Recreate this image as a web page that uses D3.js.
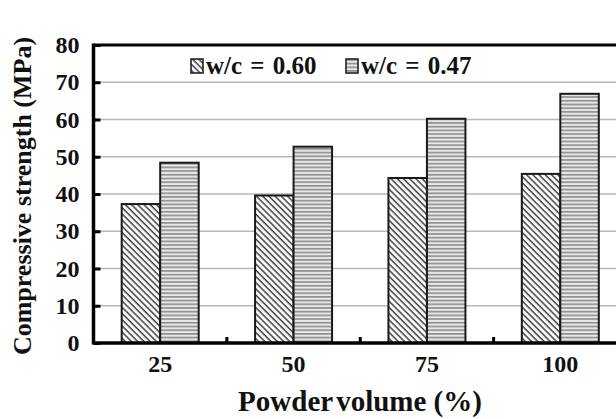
<!DOCTYPE html>
<html>
<head>
<meta charset="utf-8">
<script src="https://cdn.jsdelivr.net/npm/d3@7"></script>
<style>
  body { margin: 0; background: #fff; }
  svg text { font-family: "Liberation Serif", "Times New Roman", serif; font-weight: bold; fill: #111; }
</style>
</head>
<body>
<svg id="chart" width="616" height="419"></svg>
<script>
// data
var categories = ["25", "50", "75", "100"];
var series = ["w/c = 0.60", "w/c = 0.47"];
var wc060 = [37.3, 39.6, 44.3, 45.4];
var wc047 = [48.4, 52.7, 60.2, 66.9];
var yTicks = [0, 10, 20, 30, 40, 50, 60, 70, 80];

var svg = d3.select("#chart");
var plotL = 93.5, plotR = 627, plotT = 45, plotB = 343;

var defs = svg.append("defs");
// diagonal hatch
var diag = defs.append("pattern").attr("id", "diag").attr("patternUnits", "userSpaceOnUse")
  .attr("width", 4.4).attr("height", 4.4).attr("patternTransform", "rotate(-45)");
diag.append("rect").attr("width", 4.4).attr("height", 4.4).attr("fill", "#fafafa");
diag.append("line").attr("x1", 1).attr("x2", 1).attr("y1", 0).attr("y2", 4.4)
  .attr("stroke", "#444").attr("stroke-width", 1.5);
// horizontal stripes
var horiz = defs.append("pattern").attr("id", "horiz").attr("patternUnits", "userSpaceOnUse")
  .attr("width", 6).attr("height", 3.7);
horiz.append("rect").attr("width", 6).attr("height", 3.7).attr("fill", "#e8e8e8");
horiz.append("rect").attr("y", 0).attr("width", 6).attr("height", 1.7).attr("fill", "#919191");

var fills = {"w/c = 0.60": "url(#diag)", "w/c = 0.47": "url(#horiz)"};

var x0 = d3.scaleBand().domain(categories).range([plotL, plotR]).padding(0);
var groupW = 77;
var x1 = d3.scaleBand().domain(series)
  .range([(x0.bandwidth() - groupW) / 2, (x0.bandwidth() + groupW) / 2]);
var y = d3.scaleLinear().domain([0, 80]).range([plotB, plotT]);

// grid
svg.append("g").selectAll("line").data(yTicks.filter(function(d){ return d > 0 && d < 80; }))
  .enter().append("line")
  .attr("x1", plotL).attr("x2", 616)
  .attr("y1", function(d){ return y(d); }).attr("y2", function(d){ return y(d); })
  .attr("stroke", "#b8b8b8").attr("stroke-width", 1.5);

// bars
var rows = categories.map(function(c, i){
  return [{cat: c, s: series[0], v: wc060[i]}, {cat: c, s: series[1], v: wc047[i]}];
});
svg.append("g").selectAll("g").data(rows).enter().append("g")
  .attr("transform", function(d){ return "translate(" + x0(d[0].cat) + ",0)"; })
  .selectAll("rect").data(function(d){ return d; }).enter().append("rect")
  .attr("x", function(d){ return x1(d.s); })
  .attr("width", x1.bandwidth())
  .attr("y", function(d){ return y(d.v); })
  .attr("height", function(d){ return y(0) - y(d.v); })
  .attr("fill", function(d){ return fills[d.s]; })
  .attr("stroke", "#1a1a1a").attr("stroke-width", 2);

// y axis, ticks inward
var yAxis = d3.axisLeft(y).tickValues(yTicks).tickSize(-7).tickPadding(14);
var gy = svg.append("g").attr("transform", "translate(" + plotL + ",0)").call(yAxis);
gy.select(".domain").remove();
gy.selectAll(".tick line").attr("stroke", "#000").attr("stroke-width", 3);
gy.selectAll(".tick text").attr("font-size", 24).attr("font-family", null).attr("fill", "#111");

// x axis, labels at band centres, ticks at band edges
var xAxis = d3.axisBottom(x0).tickSize(0).tickPadding(12);
var gx = svg.append("g").attr("transform", "translate(0," + plotB + ")").call(xAxis);
gx.select(".domain").remove();
gx.selectAll(".tick text").attr("font-size", 24).attr("font-family", null).attr("fill", "#111");
svg.append("g").selectAll("line").data(categories.slice(1)).enter().append("line")
  .attr("x1", function(d){ return x0(d); }).attr("x2", function(d){ return x0(d); })
  .attr("y1", plotB).attr("y2", plotB - 6)
  .attr("stroke", "#000").attr("stroke-width", 3);

// frame
svg.append("line").attr("x1", plotL).attr("x2", 616).attr("y1", plotT).attr("y2", plotT)
  .attr("stroke", "#000").attr("stroke-width", 3);
svg.append("line").attr("x1", plotL).attr("x2", 616).attr("y1", plotB).attr("y2", plotB)
  .attr("stroke", "#000").attr("stroke-width", 3.5);
svg.append("line").attr("x1", plotL).attr("x2", plotL).attr("y1", plotT - 1.5).attr("y2", plotB + 1.5)
  .attr("stroke", "#000").attr("stroke-width", 3.5);

// legend
var legX = [191, 346];
var leg = svg.append("g").selectAll("g").data(series).enter().append("g")
  .attr("transform", function(d, i){ return "translate(" + legX[i] + ",59)"; });
leg.append("rect").attr("width", 12).attr("height", 14)
  .attr("fill", function(d){ return fills[d]; })
  .attr("stroke", "#222").attr("stroke-width", 1.6);
leg.append("text").attr("x", 15).attr("y", 15).attr("font-size", 25).attr("word-spacing", 2)
  .text(function(d){ return d; });

// axis titles
var xt = svg.append("text").attr("x", 360).attr("y", 411).attr("text-anchor", "middle")
  .attr("font-size", 29);
xt.append("tspan").text("Powder");
xt.append("tspan").attr("dx", 3).text("volume (%)");
svg.append("text").attr("transform", "translate(31,196) rotate(-90)").attr("text-anchor", "middle")
  .attr("font-size", 26).text("Compressive strength (MPa)");
</script>
</body>
</html>
